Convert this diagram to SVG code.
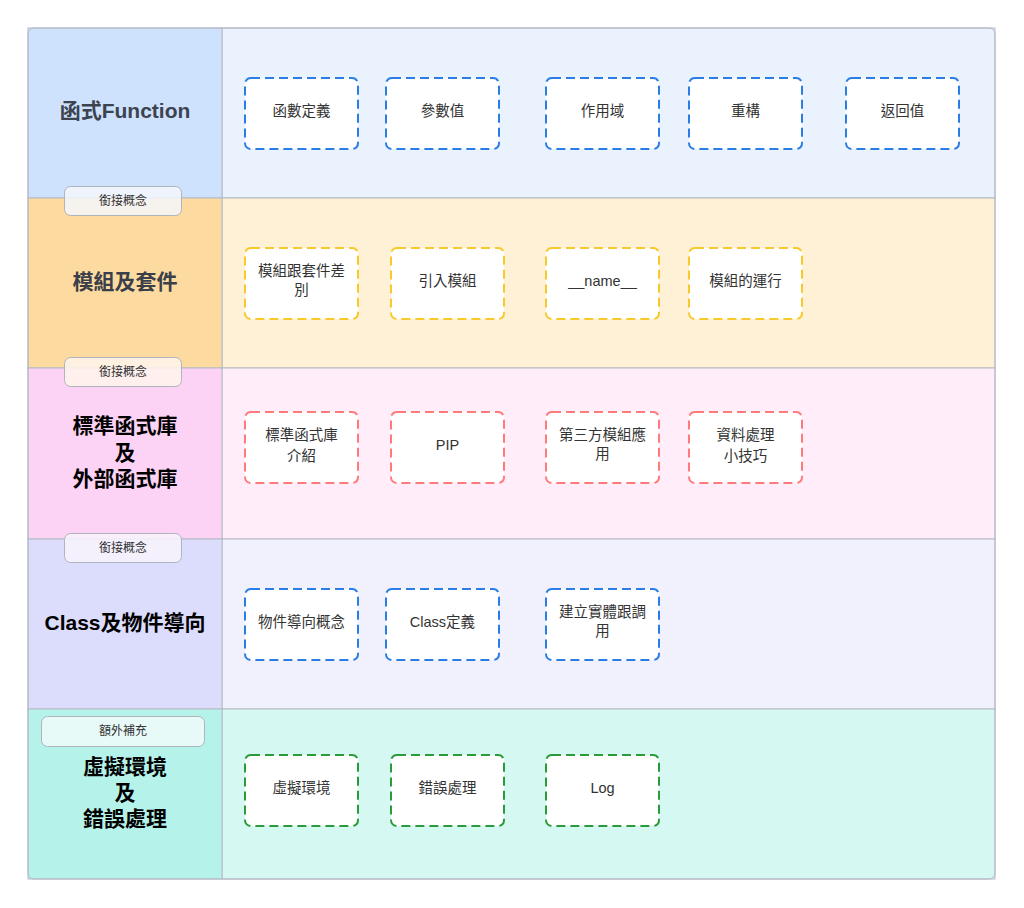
<svg xmlns="http://www.w3.org/2000/svg" width="1024" height="908" viewBox="0 0 1024 908">
<defs>
<style>
.cell{stroke:#b4b9c4;stroke-width:1}
.title{font-family:"Liberation Sans","Noto Sans CJK TC",sans-serif;font-size:21px;font-weight:bold;text-anchor:middle;dominant-baseline:central}
.node rect{fill:#ffffff;stroke-width:2;stroke-dasharray:9 5}
.node text{font-family:"Liberation Sans","Noto Sans CJK TC",sans-serif;font-size:14.5px;fill:#333333;text-anchor:middle;dominant-baseline:central}
.blue rect{stroke:#2b7de6}
.yellow rect{stroke:#f7c92c}
.red rect{stroke:#ff7b7b}
.green rect{stroke:#2a9b3a}
.tag rect{stroke:#b0b4bd;stroke-width:1}
.tag text{font-family:"Liberation Sans","Noto Sans CJK TC",sans-serif;font-size:12px;fill:#333333;text-anchor:middle;dominant-baseline:central}
</style>
</defs>
<rect width="1024" height="908" fill="#ffffff"/>
<g id="lanes">
<rect x="222" y="28" width="773" height="170" fill="#eaf2fe" class="cell"/>
<rect x="222" y="198" width="773" height="170" fill="#fff1d6" class="cell"/>
<rect x="222" y="368" width="773" height="171" fill="#ffeef9" class="cell"/>
<rect x="222" y="539" width="773" height="170" fill="#f1f0fd" class="cell"/>
<rect x="222" y="709" width="773" height="170" fill="#d6f8f2" class="cell"/>
<rect x="28" y="28" width="194" height="170" fill="#cfe2fd" class="cell"/>
<rect x="28" y="198" width="194" height="170" fill="#fddba0" class="cell"/>
<rect x="28" y="368" width="194" height="171" fill="#fdd3f5" class="cell"/>
<rect x="28" y="539" width="194" height="170" fill="#dcdcfd" class="cell"/>
<rect x="28" y="709" width="194" height="170" fill="#b5f2ea" class="cell"/>
<rect x="28" y="28" width="967" height="851" rx="6" fill="none" stroke="#b4b9c4" stroke-width="1"/>
<text class="title" x="125" y="110" fill="#3c4450">函式Function</text>
<text class="title" x="125" y="281" fill="#3a3f4a">模組及套件</text>
<text class="title" x="125" y="425" fill="#000000">標準函式庫</text>
<text class="title" x="125" y="452" fill="#000000">及</text>
<text class="title" x="125" y="478" fill="#000000">外部函式庫</text>
<text class="title" x="125" y="622" fill="#000000">Class及物件導向</text>
<text class="title" x="125" y="766" fill="#000000">虛擬環境</text>
<text class="title" x="125" y="792" fill="#000000">及</text>
<text class="title" x="125" y="818" fill="#000000">錯誤處理</text>
</g>
<g id="connectors"></g>
<g id="tag1" class="tag"><rect x="64.5" y="186.5" width="117" height="29" rx="6" fill="#f4f6fb" fill-opacity="0.85"/><text x="123" y="201">銜接概念</text></g>
<g id="tag2" class="tag"><rect x="64.5" y="357.5" width="117" height="29" rx="6" fill="#fff5ec" fill-opacity="0.85"/><text x="123" y="372">銜接概念</text></g>
<g id="tag3" class="tag"><rect x="64.5" y="533.5" width="117" height="29" rx="6" fill="#f8f4fd" fill-opacity="0.85"/><text x="123" y="548">銜接概念</text></g>
<g id="tag4" class="tag"><rect x="41.5" y="716.5" width="163" height="30" rx="6" fill="#e8faf8"/><text x="123" y="731">額外補充</text></g>
<g id="n1" class="node blue"><rect x="245" y="78" width="113" height="71" rx="6"/><text x="301.5" y="111">函數定義</text></g>
<g id="n2" class="node blue"><rect x="386" y="78" width="113" height="71" rx="6"/><text x="442.5" y="111">參數值</text></g>
<g id="n3" class="node blue"><rect x="546" y="78" width="113" height="71" rx="6"/><text x="602.5" y="111">作用域</text></g>
<g id="n4" class="node blue"><rect x="689" y="78" width="113" height="71" rx="6"/><text x="745.5" y="111">重構</text></g>
<g id="n5" class="node blue"><rect x="846" y="78" width="113" height="71" rx="6"/><text x="902.5" y="111">返回值</text></g>
<g id="n6" class="node yellow"><rect x="245" y="248" width="113" height="71" rx="6"/><text x="301.5" y="271">模組跟套件差</text><text x="301.5" y="290">別</text></g>
<g id="n7" class="node yellow"><rect x="391" y="248" width="113" height="71" rx="6"/><text x="447.5" y="281">引入模組</text></g>
<g id="n8" class="node yellow"><rect x="546" y="248" width="113" height="71" rx="6"/><text x="602.5" y="281">__name__</text></g>
<g id="n9" class="node yellow"><rect x="689" y="248" width="113" height="71" rx="6"/><text x="745.5" y="281">模組的運行</text></g>
<g id="n10" class="node red"><rect x="245" y="412" width="113" height="71" rx="6"/><text x="301.5" y="435">標準函式庫</text><text x="301.5" y="456">介紹</text></g>
<g id="n11" class="node red"><rect x="391" y="412" width="113" height="71" rx="6"/><text x="447.5" y="445">PIP</text></g>
<g id="n12" class="node red"><rect x="546" y="412" width="113" height="71" rx="6"/><text x="602.5" y="435">第三方模組應</text><text x="602.5" y="454">用</text></g>
<g id="n13" class="node red"><rect x="689" y="412" width="113" height="71" rx="6"/><text x="745.5" y="435">資料處理</text><text x="745.5" y="456">小技巧</text></g>
<g id="n14" class="node blue"><rect x="245" y="589" width="113" height="71" rx="6"/><text x="301.5" y="622">物件導向概念</text></g>
<g id="n15" class="node blue"><rect x="386" y="589" width="113" height="71" rx="6"/><text x="442.5" y="622">Class定義</text></g>
<g id="n16" class="node blue"><rect x="546" y="589" width="113" height="71" rx="6"/><text x="602.5" y="612">建立實體跟調</text><text x="602.5" y="631">用</text></g>
<g id="n17" class="node green"><rect x="245" y="755" width="113" height="71" rx="6"/><text x="301.5" y="788">虛擬環境</text></g>
<g id="n18" class="node green"><rect x="391" y="755" width="113" height="71" rx="6"/><text x="447.5" y="788">錯誤處理</text></g>
<g id="n19" class="node green"><rect x="546" y="755" width="113" height="71" rx="6"/><text x="602.5" y="788">Log</text></g>
</svg>
